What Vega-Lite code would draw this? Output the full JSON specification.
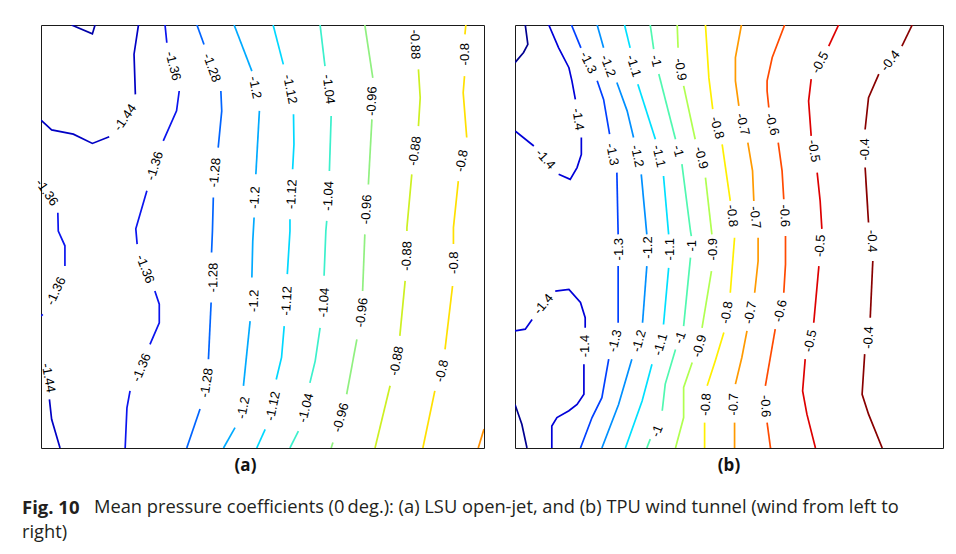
{
  "$schema": "https://vega.github.io/schema/vega-lite/v6.json",
  "padding": {"left": 22, "top": 24, "right": 5, "bottom": 0},
  "background": "white",
  "config": {
    "view": {"stroke": "#1a1a1a", "strokeWidth": 1},
    "concat": {"spacing": 29}
  },
  "datasets": {
    "a_lines": [
      {"seg":"p1","level":-1.52,"x":6.9,"y":100},{"seg":"p1","level":-1.52,"x":11.6,"y":97.9},{"seg":"p1","level":-1.52,"x":12.2,"y":100},
      {"seg":"q1","level":-1.44,"x":22.0,"y":100},{"seg":"q1","level":-1.44,"x":21.0,"y":93.1},{"seg":"q1","level":-1.44,"x":21.3,"y":83.6},
      {"seg":"q2","level":-1.44,"x":15.4,"y":73.6},{"seg":"q2","level":-1.44,"x":11.6,"y":72.0},{"seg":"q2","level":-1.44,"x":7.3,"y":74.2},{"seg":"q2","level":-1.44,"x":2.4,"y":75.2},{"seg":"q2","level":-1.44,"x":0,"y":77.5},
      {"seg":"q3","level":-1.44,"x":1.9,"y":11.5},{"seg":"q3","level":-1.44,"x":2.4,"y":6.8},{"seg":"q3","level":-1.44,"x":4.3,"y":0},
      {"seg":"r1","level":-1.36,"x":28.0,"y":100},{"seg":"r1","level":-1.36,"x":28.4,"y":95.8},
      {"seg":"r2","level":-1.36,"x":31.2,"y":84.4},{"seg":"r2","level":-1.36,"x":30.6,"y":79.7},{"seg":"r2","level":-1.36,"x":27.6,"y":72.6},
      {"seg":"r3","level":-1.36,"x":23.9,"y":60.8},{"seg":"r3","level":-1.36,"x":21.4,"y":51.8},{"seg":"r3","level":-1.36,"x":21.7,"y":48.2},
      {"seg":"r4","level":-1.36,"x":25.7,"y":37.1},{"seg":"r4","level":-1.36,"x":26.7,"y":34.0},{"seg":"r4","level":-1.36,"x":26.7,"y":29.6},{"seg":"r4","level":-1.36,"x":24.6,"y":24.5},
      {"seg":"r5","level":-1.36,"x":20.1,"y":13.5},{"seg":"r5","level":-1.36,"x":19.4,"y":9.5},{"seg":"r5","level":-1.36,"x":19.0,"y":0},
      {"seg":"r6","level":-1.36,"x":3.8,"y":55.6},{"seg":"r6","level":-1.36,"x":3.9,"y":51.3},{"seg":"r6","level":-1.36,"x":5.4,"y":47.8},{"seg":"r6","level":-1.36,"x":5.4,"y":43.0},
      {"seg":"r7","level":-1.36,"x":0.4,"y":31.6},{"seg":"r7","level":-1.36,"x":0,"y":31.2},
      {"seg":"s1","level":-1.28,"x":35.2,"y":100},{"seg":"s1","level":-1.28,"x":36.8,"y":95.4},
      {"seg":"s2","level":-1.28,"x":40.6,"y":84.4},{"seg":"s2","level":-1.28,"x":40.8,"y":79.7},{"seg":"s2","level":-1.28,"x":40.0,"y":71.0},
      {"seg":"s3","level":-1.28,"x":38.9,"y":59.2},{"seg":"s3","level":-1.28,"x":38.7,"y":51.3},{"seg":"s3","level":-1.28,"x":38.5,"y":46.2},
      {"seg":"s4","level":-1.28,"x":38.4,"y":34.4},{"seg":"s4","level":-1.28,"x":37.8,"y":21.0},
      {"seg":"s5","level":-1.28,"x":35.9,"y":9.2},{"seg":"s5","level":-1.28,"x":32.9,"y":0},
      {"seg":"t1","level":-1.2,"x":43.6,"y":100},{"seg":"t1","level":-1.2,"x":47.6,"y":89.1},
      {"seg":"t2","level":-1.2,"x":49.3,"y":79.7},{"seg":"t2","level":-1.2,"x":48.5,"y":64.7},
      {"seg":"t3","level":-1.2,"x":48.1,"y":54.5},{"seg":"t3","level":-1.2,"x":47.8,"y":48.9},{"seg":"t3","level":-1.2,"x":47.6,"y":40.3},
      {"seg":"t4","level":-1.2,"x":47.2,"y":30.0},{"seg":"t4","level":-1.2,"x":45.7,"y":14.7},
      {"seg":"t5","level":-1.2,"x":43.8,"y":4.8},{"seg":"t5","level":-1.2,"x":41.2,"y":0},
      {"seg":"u1","level":-1.12,"x":52.4,"y":100},{"seg":"u1","level":-1.12,"x":54.7,"y":90.7},
      {"seg":"u2","level":-1.12,"x":57.0,"y":78.9},{"seg":"u2","level":-1.12,"x":57.1,"y":71.8},{"seg":"u2","level":-1.12,"x":56.8,"y":65.9},
      {"seg":"u3","level":-1.12,"x":56.2,"y":54.1},{"seg":"u3","level":-1.12,"x":56.2,"y":51.3},{"seg":"u3","level":-1.12,"x":55.6,"y":41.1},
      {"seg":"u4","level":-1.12,"x":54.9,"y":28.8},{"seg":"u4","level":-1.12,"x":54.3,"y":21.4},{"seg":"u4","level":-1.12,"x":53.1,"y":16.2},
      {"seg":"u5","level":-1.12,"x":50.6,"y":4.4},{"seg":"u5","level":-1.12,"x":48.7,"y":0},
      {"seg":"w1","level":-1.04,"x":63.0,"y":100},{"seg":"w1","level":-1.04,"x":64.1,"y":90.3},
      {"seg":"w2","level":-1.04,"x":65.5,"y":78.5},{"seg":"w2","level":-1.04,"x":65.1,"y":65.5},
      {"seg":"w3","level":-1.04,"x":64.5,"y":53.7},{"seg":"w3","level":-1.04,"x":64.3,"y":51.3},{"seg":"w3","level":-1.04,"x":63.9,"y":40.7},
      {"seg":"w4","level":-1.04,"x":63.0,"y":28.4},{"seg":"w4","level":-1.04,"x":61.9,"y":20.6},{"seg":"w4","level":-1.04,"x":60.7,"y":15.4},
      {"seg":"w5","level":-1.04,"x":58.1,"y":4.0},{"seg":"w5","level":-1.04,"x":56.2,"y":0},
      {"seg":"k1","level":-0.96,"x":73.1,"y":100},{"seg":"k1","level":-0.96,"x":74.9,"y":87.5},
      {"seg":"k2","level":-0.96,"x":74.7,"y":77.7},{"seg":"k2","level":-0.96,"x":73.9,"y":62.3},
      {"seg":"k3","level":-0.96,"x":73.1,"y":50.5},{"seg":"k3","level":-0.96,"x":72.6,"y":37.1},
      {"seg":"k4","level":-0.96,"x":71.3,"y":25.7},{"seg":"k4","level":-0.96,"x":69.0,"y":12.7},
      {"seg":"k5","level":-0.96,"x":65.9,"y":1.3},{"seg":"k5","level":-0.96,"x":65.5,"y":0},
      {"seg":"m1","level":-0.88,"x":85.2,"y":89.5},{"seg":"m1","level":-0.88,"x":85.6,"y":82.8},{"seg":"m1","level":-0.88,"x":85.2,"y":76.1},
      {"seg":"m2","level":-0.88,"x":83.7,"y":64.7},{"seg":"m2","level":-0.88,"x":82.6,"y":52.1},{"seg":"m2","level":-0.88,"x":82.6,"y":51.3},
      {"seg":"m3","level":-0.88,"x":82.2,"y":39.5},{"seg":"m3","level":-0.88,"x":81.0,"y":26.5},
      {"seg":"m4","level":-0.88,"x":78.8,"y":14.7},{"seg":"m4","level":-0.88,"x":75.4,"y":0},
      {"seg":"n1","level":-0.8,"x":95.9,"y":100},{"seg":"n1","level":-0.8,"x":95.7,"y":97.8},
      {"seg":"n2","level":-0.8,"x":95.6,"y":87.9},{"seg":"n2","level":-0.8,"x":95.3,"y":84.0},{"seg":"n2","level":-0.8,"x":96.1,"y":73.4},
      {"seg":"n3","level":-0.8,"x":94.2,"y":63.1},{"seg":"n3","level":-0.8,"x":93.1,"y":52.1},{"seg":"n3","level":-0.8,"x":93.1,"y":48.2},
      {"seg":"n4","level":-0.8,"x":92.9,"y":38.3},{"seg":"n4","level":-0.8,"x":91.2,"y":23.3},
      {"seg":"n5","level":-0.8,"x":88.9,"y":13.5},{"seg":"n5","level":-0.8,"x":86.2,"y":0},
      {"seg":"o1","level":-0.72,"x":98.7,"y":0},{"seg":"o1","level":-0.72,"x":100,"y":4.5}
    ],
    "a_labels": [
      {"level":-1.44,"x":19.0,"y":78.1,"rot":-55},{"level":-1.44,"x":1.65,"y":16.6,"rot":80},
      {"level":-1.36,"x":29.8,"y":90.3,"rot":76},{"level":-1.36,"x":25.7,"y":66.7,"rot":-72},{"level":-1.36,"x":23.5,"y":42.3,"rot":69},{"level":-1.36,"x":22.7,"y":19.0,"rot":-67},{"level":-1.36,"x":1.3,"y":60.4,"rot":55},{"level":-1.36,"x":3.4,"y":37.1,"rot":-65},
      {"level":-1.28,"x":38.5,"y":89.9,"rot":70},{"level":-1.28,"x":39.3,"y":65.1,"rot":-84},{"level":-1.28,"x":38.9,"y":40.3,"rot":-89},{"level":-1.28,"x":37.4,"y":15.4,"rot":-81},
      {"level":-1.2,"x":48.3,"y":85.2,"rot":79},{"level":-1.2,"x":48.3,"y":59.2,"rot":-87},{"level":-1.2,"x":48.1,"y":34.8,"rot":-88},{"level":-1.2,"x":45.7,"y":9.5,"rot":-79},
      {"level":-1.12,"x":56.2,"y":84.8,"rot":79},{"level":-1.12,"x":56.6,"y":60.0,"rot":-87},{"level":-1.12,"x":55.5,"y":34.8,"rot":-87},{"level":-1.12,"x":52.4,"y":9.9,"rot":-78},
      {"level":-1.04,"x":64.9,"y":84.8,"rot":83},{"level":-1.04,"x":64.9,"y":59.6,"rot":-87},{"level":-1.04,"x":63.9,"y":34.4,"rot":-86},{"level":-1.04,"x":59.8,"y":9.5,"rot":-76},
      {"level":-0.96,"x":74.7,"y":82.0,"rot":-88},{"level":-0.96,"x":73.5,"y":56.4,"rot":-87},{"level":-0.96,"x":72.4,"y":32.0,"rot":-83},{"level":-0.96,"x":67.7,"y":7.2,"rot":-74},
      {"level":-0.88,"x":84.4,"y":95.4,"rot":88},{"level":-0.88,"x":84.4,"y":70.2,"rot":-82},{"level":-0.88,"x":82.6,"y":45.4,"rot":-88},{"level":-0.88,"x":80.3,"y":20.6,"rot":-79},
      {"level":-0.8,"x":95.7,"y":93.1,"rot":-90},{"level":-0.8,"x":95.0,"y":67.9,"rot":-79},{"level":-0.8,"x":93.2,"y":43.8,"rot":-90},{"level":-0.8,"x":90.5,"y":18.2,"rot":-77}
    ],
    "b_lines": [
      {"seg":"p1","level":-1.5,"x":2.4,"y":100},{"seg":"p1","level":-1.5,"x":3.0,"y":95.4},{"seg":"p1","level":-1.5,"x":2.0,"y":93.5},{"seg":"p1","level":-1.5,"x":0,"y":91.1},
      {"seg":"p2","level":-1.5,"x":0,"y":10.3},{"seg":"p2","level":-1.5,"x":1.6,"y":5.6},{"seg":"p2","level":-1.5,"x":2.8,"y":0},
      {"seg":"q1","level":-1.4,"x":7.9,"y":100},{"seg":"q1","level":-1.4,"x":10.2,"y":94.6},{"seg":"q1","level":-1.4,"x":12.6,"y":89.9},{"seg":"q1","level":-1.4,"x":13.3,"y":86.8},{"seg":"q1","level":-1.4,"x":14.1,"y":82.4},
      {"seg":"q2","level":-1.4,"x":15.5,"y":73.4},{"seg":"q2","level":-1.4,"x":15.5,"y":69.4},{"seg":"q2","level":-1.4,"x":14.5,"y":66.3},{"seg":"q2","level":-1.4,"x":12.9,"y":63.5},{"seg":"q2","level":-1.4,"x":10.2,"y":64.7},
      {"seg":"q3","level":-1.4,"x":4.4,"y":71.4},{"seg":"q3","level":-1.4,"x":0.1,"y":74.9},
      {"seg":"q4","level":-1.4,"x":0,"y":27.7},{"seg":"q4","level":-1.4,"x":2.4,"y":28.1},{"seg":"q4","level":-1.4,"x":4.0,"y":30.4},
      {"seg":"q5","level":-1.4,"x":9.4,"y":37.1},{"seg":"q5","level":-1.4,"x":12.6,"y":37.5},{"seg":"q5","level":-1.4,"x":15.3,"y":34.4},{"seg":"q5","level":-1.4,"x":16.4,"y":30.8},{"seg":"q5","level":-1.4,"x":16.4,"y":28.4},
      {"seg":"q6","level":-1.4,"x":16.1,"y":19.8},{"seg":"q6","level":-1.4,"x":16.1,"y":12.7},{"seg":"q6","level":-1.4,"x":14.5,"y":10.3},{"seg":"q6","level":-1.4,"x":12.6,"y":8.8},{"seg":"q6","level":-1.4,"x":9.8,"y":7.2},{"seg":"q6","level":-1.4,"x":8.6,"y":5.2},{"seg":"q6","level":-1.4,"x":8.6,"y":0},
      {"seg":"r1","level":-1.3,"x":13.2,"y":100},{"seg":"r1","level":-1.3,"x":15.4,"y":94.6},
      {"seg":"r2","level":-1.3,"x":19.2,"y":86.8},{"seg":"r2","level":-1.3,"x":20.7,"y":82.4},{"seg":"r2","level":-1.3,"x":22.1,"y":74.2},
      {"seg":"r3","level":-1.3,"x":23.8,"y":65.1},{"seg":"r3","level":-1.3,"x":24.1,"y":50.5},
      {"seg":"r4","level":-1.3,"x":24.1,"y":43.0},{"seg":"r4","level":-1.3,"x":24.1,"y":29.6},
      {"seg":"r5","level":-1.3,"x":21.9,"y":21.0},{"seg":"r5","level":-1.3,"x":20.3,"y":11.9},{"seg":"r5","level":-1.3,"x":18.0,"y":7.2},{"seg":"r5","level":-1.3,"x":15.3,"y":0},
      {"seg":"s1","level":-1.2,"x":19.2,"y":100},{"seg":"s1","level":-1.2,"x":20.7,"y":94.6},
      {"seg":"s2","level":-1.2,"x":23.8,"y":86.4},{"seg":"s2","level":-1.2,"x":26.2,"y":79.7},{"seg":"s2","level":-1.2,"x":27.7,"y":73.4},
      {"seg":"s3","level":-1.2,"x":29.5,"y":64.7},{"seg":"s3","level":-1.2,"x":30.8,"y":50.5},
      {"seg":"s4","level":-1.2,"x":30.8,"y":43.0},{"seg":"s4","level":-1.2,"x":29.8,"y":29.6},
      {"seg":"s5","level":-1.2,"x":27.3,"y":21.0},{"seg":"s5","level":-1.2,"x":24.2,"y":10.3},{"seg":"s5","level":-1.2,"x":20.3,"y":0},
      {"seg":"t1","level":-1.1,"x":25.6,"y":100},{"seg":"t1","level":-1.1,"x":26.9,"y":94.6},
      {"seg":"t2","level":-1.1,"x":28.7,"y":86.0},{"seg":"t2","level":-1.1,"x":32.8,"y":73.0},
      {"seg":"t3","level":-1.1,"x":34.7,"y":64.3},{"seg":"t3","level":-1.1,"x":35.9,"y":50.5},
      {"seg":"t4","level":-1.1,"x":35.9,"y":42.6},{"seg":"t4","level":-1.1,"x":34.7,"y":29.2},
      {"seg":"t5","level":-1.1,"x":32.0,"y":19.8},{"seg":"t5","level":-1.1,"x":29.7,"y":11.1},{"seg":"t5","level":-1.1,"x":25.8,"y":0},
      {"seg":"u1","level":-1,"x":31.6,"y":100},{"seg":"u1","level":-1,"x":32.4,"y":94.3},
      {"seg":"u2","level":-1,"x":33.6,"y":88.4},{"seg":"u2","level":-1,"x":37.5,"y":73.0},
      {"seg":"u3","level":-1,"x":39.0,"y":67.1},{"seg":"u3","level":-1,"x":41.0,"y":51.3},{"seg":"u3","level":-1,"x":41.2,"y":50.1},
      {"seg":"u4","level":-1,"x":41.0,"y":45.0},{"seg":"u4","level":-1,"x":39.4,"y":28.8},
      {"seg":"u5","level":-1,"x":37.5,"y":23.3},{"seg":"u5","level":-1,"x":35.1,"y":15.1},{"seg":"u5","level":-1,"x":34.4,"y":8.8},
      {"seg":"u6","level":-1,"x":31.6,"y":2.1},{"seg":"u6","level":-1,"x":30.8,"y":0},
      {"seg":"w1","level":-0.9,"x":37.9,"y":100},{"seg":"w1","level":-0.9,"x":38.1,"y":94.6},
      {"seg":"w2","level":-0.9,"x":39.4,"y":85.6},{"seg":"w2","level":-0.9,"x":42.1,"y":73.0},
      {"seg":"w3","level":-0.9,"x":44.5,"y":63.9},{"seg":"w3","level":-0.9,"x":46.0,"y":50.5},
      {"seg":"w4","level":-0.9,"x":45.9,"y":41.8},{"seg":"w4","level":-0.9,"x":43.7,"y":28.4},
      {"seg":"w5","level":-0.9,"x":41.4,"y":20.2},{"seg":"w5","level":-0.9,"x":39.4,"y":14.3},{"seg":"w5","level":-0.9,"x":39.4,"y":7.2},{"seg":"w5","level":-0.9,"x":37.5,"y":0},
      {"seg":"k1","level":-0.8,"x":44.5,"y":100},{"seg":"k1","level":-0.8,"x":45.3,"y":87.5},{"seg":"k1","level":-0.8,"x":46.2,"y":80.1},
      {"seg":"k2","level":-0.8,"x":48.4,"y":71.8},{"seg":"k2","level":-0.8,"x":50.3,"y":58.4},
      {"seg":"k3","level":-0.8,"x":51.3,"y":49.7},{"seg":"k3","level":-0.8,"x":50.3,"y":36.7},
      {"seg":"k4","level":-0.8,"x":48.8,"y":27.3},{"seg":"k4","level":-0.8,"x":46.8,"y":20.6},{"seg":"k4","level":-0.8,"x":44.9,"y":14.7},
      {"seg":"k5","level":-0.8,"x":44.3,"y":6.0},{"seg":"k5","level":-0.8,"x":44.3,"y":0},
      {"seg":"m1","level":-0.7,"x":52.9,"y":100},{"seg":"m1","level":-0.7,"x":51.5,"y":92.3},{"seg":"m1","level":-0.7,"x":51.5,"y":86.8},{"seg":"m1","level":-0.7,"x":52.3,"y":80.9},
      {"seg":"m2","level":-0.7,"x":54.4,"y":72.2},{"seg":"m2","level":-0.7,"x":55.5,"y":65.5},{"seg":"m2","level":-0.7,"x":55.8,"y":58.4},
      {"seg":"m3","level":-0.7,"x":56.8,"y":49.7},{"seg":"m3","level":-0.7,"x":56.8,"y":44.2},{"seg":"m3","level":-0.7,"x":56.0,"y":36.7},
      {"seg":"m4","level":-0.7,"x":54.2,"y":27.7},{"seg":"m4","level":-0.7,"x":53.0,"y":21.4},{"seg":"m4","level":-0.7,"x":51.5,"y":15.1},
      {"seg":"m5","level":-0.7,"x":51.3,"y":6.0},{"seg":"m5","level":-0.7,"x":51.3,"y":0},
      {"seg":"n1","level":-0.6,"x":63.0,"y":100},{"seg":"n1","level":-0.6,"x":60.1,"y":92.3},{"seg":"n1","level":-0.6,"x":58.9,"y":86.8},{"seg":"n1","level":-0.6,"x":58.9,"y":84.4},{"seg":"n1","level":-0.6,"x":59.3,"y":80.5},
      {"seg":"n2","level":-0.6,"x":61.5,"y":72.2},{"seg":"n2","level":-0.6,"x":62.4,"y":65.5},{"seg":"n2","level":-0.6,"x":62.8,"y":58.8},
      {"seg":"n3","level":-0.6,"x":63.2,"y":50.1},{"seg":"n3","level":-0.6,"x":63.2,"y":43.4},{"seg":"n3","level":-0.6,"x":62.8,"y":36.7},
      {"seg":"n4","level":-0.6,"x":60.8,"y":28.1},{"seg":"n4","level":-0.6,"x":58.5,"y":14.7},
      {"seg":"n5","level":-0.6,"x":58.9,"y":6.0},{"seg":"n5","level":-0.6,"x":59.7,"y":0},
      {"seg":"o1","level":-0.5,"x":75.6,"y":100},{"seg":"o1","level":-0.5,"x":73.3,"y":95.0},
      {"seg":"o2","level":-0.5,"x":69.2,"y":87.2},{"seg":"o2","level":-0.5,"x":68.6,"y":82.0},{"seg":"o2","level":-0.5,"x":69.2,"y":73.8},
      {"seg":"o3","level":-0.5,"x":70.6,"y":65.1},{"seg":"o3","level":-0.5,"x":71.3,"y":58.4},{"seg":"o3","level":-0.5,"x":71.7,"y":51.8},
      {"seg":"o4","level":-0.5,"x":71.0,"y":43.0},{"seg":"o4","level":-0.5,"x":69.8,"y":29.6},
      {"seg":"o5","level":-0.5,"x":67.8,"y":21.0},{"seg":"o5","level":-0.5,"x":67.2,"y":13.5},{"seg":"o5","level":-0.5,"x":68.2,"y":8.0},{"seg":"o5","level":-0.5,"x":70.2,"y":0},
      {"seg":"z1","level":-0.4,"x":92.8,"y":100},{"seg":"z1","level":-0.4,"x":90.4,"y":95.0},
      {"seg":"z2","level":-0.4,"x":85.0,"y":88.4},{"seg":"z2","level":-0.4,"x":82.6,"y":82.8},{"seg":"z2","level":-0.4,"x":81.8,"y":75.3},
      {"seg":"z3","level":-0.4,"x":81.8,"y":66.3},{"seg":"z3","level":-0.4,"x":82.6,"y":53.3},
      {"seg":"z4","level":-0.4,"x":83.6,"y":44.2},{"seg":"z4","level":-0.4,"x":83.0,"y":30.8},
      {"seg":"z5","level":-0.4,"x":81.7,"y":22.2},{"seg":"z5","level":-0.4,"x":81.1,"y":12.7},{"seg":"z5","level":-0.4,"x":82.6,"y":8.0},{"seg":"z5","level":-0.4,"x":85.8,"y":0}
    ],
    "b_labels": [
      {"level":-1.4,"x":14.7,"y":77.7,"rot":81},{"level":-1.4,"x":7.1,"y":68.3,"rot":48},{"level":-1.4,"x":6.7,"y":34.0,"rot":-50},{"level":-1.4,"x":16.4,"y":24.1,"rot":-90},
      {"level":-1.3,"x":17.1,"y":91.1,"rot":64},{"level":-1.3,"x":22.7,"y":69.4,"rot":79},{"level":-1.3,"x":24.2,"y":47.0,"rot":-90},{"level":-1.3,"x":23.4,"y":25.3,"rot":-76},
      {"level":-1.2,"x":21.7,"y":90.3,"rot":69},{"level":-1.2,"x":28.5,"y":69.0,"rot":78},{"level":-1.2,"x":31.1,"y":47.4,"rot":-90},{"level":-1.2,"x":29.0,"y":25.3,"rot":-74},
      {"level":-1.1,"x":27.7,"y":90.3,"rot":72},{"level":-1.1,"x":33.6,"y":69.0,"rot":77},{"level":-1.1,"x":36.3,"y":47.0,"rot":-90},{"level":-1.1,"x":34.0,"y":24.5,"rot":-74},
      {"level":-1,"x":32.9,"y":91.5,"rot":76},{"level":-1,"x":38.1,"y":70.2,"rot":75},{"level":-1,"x":41.4,"y":47.8,"rot":-90},{"level":-1,"x":38.6,"y":26.1,"rot":-70},{"level":-1,"x":33.2,"y":4.0,"rot":-68},
      {"level":-0.9,"x":38.6,"y":89.5,"rot":81},{"level":-0.9,"x":43.5,"y":68.6,"rot":75},{"level":-0.9,"x":46.2,"y":47.0,"rot":-90},{"level":-0.9,"x":43.1,"y":24.1,"rot":-74},
      {"level":-0.8,"x":47.2,"y":75.7,"rot":75},{"level":-0.8,"x":50.7,"y":54.9,"rot":83},{"level":-0.8,"x":49.5,"y":32.0,"rot":-81},{"level":-0.8,"x":44.6,"y":10.3,"rot":-86},
      {"level":-0.7,"x":53.2,"y":76.5,"rot":76},{"level":-0.7,"x":56.1,"y":54.5,"rot":83},{"level":-0.7,"x":55.0,"y":32.0,"rot":-79},{"level":-0.7,"x":51.1,"y":10.3,"rot":-89},
      {"level":-0.6,"x":60.05,"y":76.5,"rot":75},{"level":-0.6,"x":63.0,"y":54.9,"rot":87},{"level":-0.6,"x":62.0,"y":32.4,"rot":-77},{"level":-0.6,"x":58.5,"y":9.9,"rot":87},
      {"level":-0.5,"x":71.3,"y":91.1,"rot":-62},{"level":-0.5,"x":69.8,"y":70.2,"rot":81},{"level":-0.5,"x":71.3,"y":47.8,"rot":-85},{"level":-0.5,"x":69.0,"y":25.3,"rot":-77},
      {"level":-0.4,"x":87.7,"y":91.5,"rot":-52},{"level":-0.4,"x":81.8,"y":70.6,"rot":-90},{"level":-0.4,"x":83.4,"y":48.9,"rot":88},{"level":-0.4,"x":82.6,"y":26.1,"rot":-87}
    ],
    "caption": [
      {"line":1,"part":"lead","txt":"Fig. 10"},
      {"line":1,"part":"rest","txt":"Mean pressure coefficients (0\u2009deg.): (a) LSU open-jet, and (b) TPU wind tunnel (wind from left to"},
      {"line":2,"part":"cont","txt":"right)"}
    ]
  },
  "vconcat": [
    {
      "hconcat": [
        {
          "width": 443, "height": 423,
          "title": {"text": "(a)", "orient": "bottom", "offset": 10, "dx": -17, "font": "Open Sans", "fontSize": 17, "fontWeight": "bold", "color": "#111"},
          "layer": [
            {
              "data": {"name": "a_lines"},
              "transform": [{"window": [{"op": "row_number", "as": "i"}]}],
              "mark": {"type": "line", "strokeWidth": 1.7, "clip": true},
              "encoding": {
                "x": {"field": "x", "type": "quantitative", "scale": {"domain": [0, 100], "nice": false, "zero": false}, "axis": null},
                "y": {"field": "y", "type": "quantitative", "scale": {"domain": [0, 100], "nice": false, "zero": false}, "axis": null},
                "detail": {"field": "seg", "type": "nominal"},
                "order": {"field": "i", "type": "quantitative"},
                "color": {"field": "level", "type": "nominal", "legend": null,
                  "scale": {"domain": [-1.52,-1.44,-1.36,-1.28,-1.2,-1.12,-1.04,-0.96,-0.88,-0.8,-0.72],
                            "range": ["#0000a8","#0000c4","#0a14ee","#0064ff","#00aaff","#00d8ff","#3cf0cc","#90f080","#cdf022","#ffe000","#ff9000"]}}
              }
            },
            {
              "data": {"name": "a_labels"},
              "mark": {"type": "text", "font": "Liberation Sans", "fontSize": 13, "align": "center", "baseline": "middle", "color": "#000"},
              "encoding": {
                "x": {"field": "x", "type": "quantitative"},
                "y": {"field": "y", "type": "quantitative"},
                "angle": {"field": "rot", "type": "quantitative", "scale": null},
                "text": {"field": "level", "type": "nominal"}
              }
            }
          ]
        },
        {
          "width": 428, "height": 423,
          "title": {"text": "(b)", "orient": "bottom", "offset": 10, "font": "Open Sans", "fontSize": 17, "fontWeight": "bold", "color": "#111"},
          "layer": [
            {
              "data": {"name": "b_lines"},
              "transform": [{"window": [{"op": "row_number", "as": "i"}]}],
              "mark": {"type": "line", "strokeWidth": 1.7, "clip": true},
              "encoding": {
                "x": {"field": "x", "type": "quantitative", "scale": {"domain": [0, 100], "nice": false, "zero": false}, "axis": null},
                "y": {"field": "y", "type": "quantitative", "scale": {"domain": [0, 100], "nice": false, "zero": false}, "axis": null},
                "detail": {"field": "seg", "type": "nominal"},
                "order": {"field": "i", "type": "quantitative"},
                "color": {"field": "level", "type": "nominal", "legend": null,
                  "scale": {"domain": [-1.5,-1.4,-1.3,-1.2,-1.1,-1,-0.9,-0.8,-0.7,-0.6,-0.5,-0.4],
                            "range": ["#000090","#0000d8","#0040ff","#0090ff","#00e0ff","#50f8b0","#b0ff50","#ffef00","#ff9a00","#ff4a00","#dd0000","#880000"]}}
              }
            },
            {
              "data": {"name": "b_labels"},
              "mark": {"type": "text", "font": "Liberation Sans", "fontSize": 13, "align": "center", "baseline": "middle", "color": "#000"},
              "encoding": {
                "x": {"field": "x", "type": "quantitative"},
                "y": {"field": "y", "type": "quantitative"},
                "angle": {"field": "rot", "type": "quantitative", "scale": null},
                "text": {"field": "level", "type": "nominal"}
              }
            }
          ]
        }
      ],
      "resolve": {"scale": {"color": "independent", "x": "independent", "y": "independent"}}
    },
    {
      "width": 900, "height": 50,
      "view": {"stroke": null},
      "data": {"name": "caption"},
      "encoding": {
        "x": {"datum": 0, "type": "quantitative", "scale": {"domain": [0, 1]}, "axis": null},
        "y": {"field": "line", "type": "ordinal", "axis": null},
        "text": {"field": "txt", "type": "nominal"}
      },
      "layer": [
        {"transform": [{"filter": "datum.part === 'lead'"}], "mark": {"type": "text", "align": "left", "baseline": "middle", "dx": -19, "font": "Open Sans", "fontSize": 18.5, "fontWeight": "bold", "color": "#231f20"}},
        {"transform": [{"filter": "datum.part === 'rest'"}], "mark": {"type": "text", "align": "left", "baseline": "middle", "dx": 53, "font": "Open Sans", "fontSize": 18.3, "color": "#231f20"}},
        {"transform": [{"filter": "datum.part === 'cont'"}], "mark": {"type": "text", "align": "left", "baseline": "middle", "dx": -19, "font": "Open Sans", "fontSize": 18.3, "color": "#231f20"}}
      ]
    }
  ],
  "spacing": 20
}
